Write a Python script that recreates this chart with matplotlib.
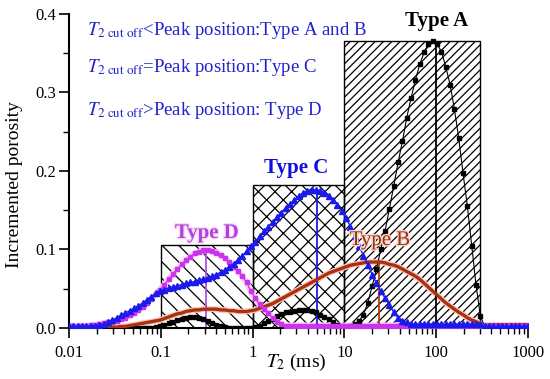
import matplotlib
matplotlib.use('Agg')
import matplotlib.pyplot as plt
import numpy as np
from matplotlib import patheffects as pe
from matplotlib.ticker import FixedLocator, NullFormatter, FixedFormatter, MultipleLocator, LogLocator, FormatStrFormatter

# ---------------- data ----------------
# T2 relaxation-time bins (ms), logarithmically spaced as in NMR inversion
T2 = np.logspace(-2, 3, 107)

typeA = [0.000, 0.000, 0.000, 0.000, 0.000, 0.000, 0.000, 0.000, 0.000, 0.000,
         0.000, 0.000, 0.000, 0.000, 0.000, 0.000, 0.000, 0.000, 0.000, 0.000,
         0.001, 0.002, 0.004, 0.006, 0.008, 0.010, 0.012, 0.013, 0.014, 0.014,
         0.013, 0.011, 0.009, 0.006, 0.004, 0.002, 0.001, 0.000, 0.000, 0.000,
         0.000, 0.000, 0.000, 0.001, 0.003, 0.006, 0.009, 0.012, 0.015, 0.018,
         0.020, 0.021, 0.022, 0.023, 0.023, 0.023, 0.022, 0.020, 0.017, 0.014,
         0.011, 0.007, 0.004, 0.002, 0.001, 0.002, 0.005, 0.009, 0.017, 0.032,
         0.053, 0.075, 0.100, 0.124, 0.152, 0.181, 0.211, 0.238, 0.268, 0.293,
         0.316, 0.336, 0.351, 0.362, 0.365, 0.362, 0.352, 0.333, 0.310, 0.279,
         0.242, 0.197, 0.155, 0.105, 0.055, 0.015, 0.002, 0.000, 0.000, 0.000,
         0.000, 0.000, 0.000, 0.000, 0.000, 0.000, 0.000]

typeB = [0.000, 0.000, 0.000, 0.000, 0.000, 0.000, 0.000, 0.000, 0.000, 0.000,
         0.001, 0.001, 0.002, 0.002, 0.003, 0.004, 0.005, 0.006, 0.007, 0.008,
         0.009, 0.010, 0.012, 0.014, 0.016, 0.018, 0.019, 0.021, 0.022, 0.023,
         0.023, 0.024, 0.024, 0.024, 0.024, 0.023, 0.023, 0.022, 0.022, 0.021,
         0.021, 0.021, 0.022, 0.023, 0.025, 0.027, 0.029, 0.031, 0.034, 0.037,
         0.040, 0.043, 0.046, 0.049, 0.052, 0.055, 0.058, 0.061, 0.064, 0.067,
         0.070, 0.072, 0.074, 0.076, 0.078, 0.080, 0.081, 0.082, 0.083, 0.084,
         0.084, 0.084, 0.084, 0.083, 0.081, 0.080, 0.078, 0.075, 0.072, 0.069,
         0.066, 0.062, 0.057, 0.052, 0.047, 0.042, 0.037, 0.032, 0.028, 0.024,
         0.020, 0.017, 0.013, 0.010, 0.008, 0.005, 0.003, 0.004, 0.004, 0.004,
         0.004, 0.004, 0.004, 0.004, 0.004, 0.004, 0.004]

typeC = [0.002, 0.002, 0.002, 0.002, 0.002, 0.003, 0.003, 0.004, 0.005, 0.007,
         0.010, 0.013, 0.016, 0.019, 0.022, 0.025, 0.028, 0.032, 0.036, 0.040,
         0.044, 0.047, 0.049, 0.051, 0.052, 0.054, 0.055, 0.057, 0.058, 0.059,
         0.061, 0.062, 0.064, 0.066, 0.068, 0.071, 0.074, 0.078, 0.082, 0.087,
         0.092, 0.098, 0.104, 0.110, 0.117, 0.123, 0.129, 0.135, 0.141, 0.147,
         0.153, 0.158, 0.163, 0.168, 0.172, 0.175, 0.176, 0.176, 0.175, 0.172,
         0.168, 0.163, 0.157, 0.149, 0.140, 0.129, 0.117, 0.104, 0.092, 0.080,
         0.068, 0.057, 0.047, 0.038, 0.029, 0.020, 0.013, 0.009, 0.007, 0.005,
         0.005, 0.005, 0.005, 0.005, 0.005, 0.005, 0.005, 0.005, 0.005, 0.005,
         0.005, 0.005, 0.005, 0.005, 0.005, 0.005, 0.002, 0.002, 0.002, 0.002,
         0.002, 0.002, 0.002, 0.002, 0.002, 0.002, 0.002]

typeD = [0.003, 0.003, 0.003, 0.003, 0.003, 0.004, 0.004, 0.005, 0.006, 0.007,
         0.008, 0.009, 0.011, 0.013, 0.016, 0.019, 0.023, 0.027, 0.032, 0.037,
         0.043, 0.049, 0.055, 0.062, 0.069, 0.075, 0.081, 0.086, 0.091, 0.095,
         0.097, 0.099, 0.099, 0.098, 0.096, 0.093, 0.089, 0.084, 0.078, 0.072,
         0.066, 0.058, 0.047, 0.038, 0.030, 0.024, 0.019, 0.013, 0.008, 0.005,
         0.003, 0.003, 0.003, 0.003, 0.003, 0.003, 0.003, 0.003, 0.003, 0.003,
         0.003, 0.003, 0.003, 0.003, 0.003, 0.003, 0.003, 0.003, 0.003, 0.003,
         0.003, 0.003, 0.003, 0.003, 0.003, 0.003, 0.003, 0.003, 0.003, 0.003,
         0.003, 0.003, 0.003, 0.003, 0.003, 0.003, 0.003, 0.003, 0.003, 0.003,
         0.003, 0.003, 0.003, 0.003, 0.003, 0.003, 0.003, 0.003, 0.003, 0.003,
         0.003, 0.003, 0.003, 0.003, 0.003, 0.003, 0.003]

# cut-off boxes
box_left = [0.1, 1, 10]
box_right = [1, 10, 300]
box_height = [0.106, 0.182, 0.366]
box_hatch = ['\\\\', 'xx', '////']

# peak position markers
peak_T2 = [100, 5, 23.8, 0.31]
peak_val = [0.366, 0.176, 0.084, 0.099]
peak_color = ['black', '#1a1aee', '#b0400a', '#b050e0']

x_ticks = [0.01, 0.1, 1, 10, 100, 1000]
x_ticklabels = ['0.01', '0.1', '1', '10', '100', '1000']

# ---------------- figure ----------------
plt.rcParams['font.family'] = ['Liberation Serif', 'DejaVu Serif']
plt.rcParams['mathtext.fontset'] = 'stix'
plt.rcParams['hatch.linewidth'] = 0.9

fig = plt.figure(figsize=(5.5, 3.79), dpi=100)
ax = fig.add_axes([0.1255, 0.1346, 0.8345, 0.8285])
ax.set_xscale('log')

for l, r, h, hh in zip(box_left, box_right, box_height, box_hatch):
    ax.bar(l, h, width=r - l, align='edge', fill=False, hatch=hh,
           edgecolor='black', linewidth=1.0, zorder=1)

ax.vlines(peak_T2, 0, peak_val, colors=peak_color, linewidth=1.3, zorder=2.5)

# Type A
ax.plot(T2, typeA, color='black', marker='s', ms=2.8, lw=0.8, zorder=3)
# Type B
ax.plot(T2, typeB, color='#ffc4c4', lw=4.2, zorder=2, solid_capstyle='round')
ax.plot(T2, typeB, color='#a8320c', lw=2.4, zorder=3.5)
# Type D
ax.plot(T2, typeD, color='#ffd0f6', lw=4.5, zorder=2, solid_capstyle='round')
ax.plot(T2, typeD, color='#cc33ee', marker='s', ms=3.5, lw=1, zorder=4)
# Type C
ax.plot(T2, typeC, color='#1a1aee', marker='^', ms=4, lw=1, zorder=5)

ax.set_xlim(0.01, 1000)
ax.set_ylim(0, 0.4)

for s in ['top', 'right']:
    ax.spines[s].set_visible(False)
for s in ['left', 'bottom']:
    ax.spines[s].set_linewidth(1.5)

ax.xaxis.set_major_locator(FixedLocator(x_ticks))
ax.xaxis.set_major_formatter(FixedFormatter(x_ticklabels))
ax.xaxis.set_minor_locator(LogLocator(base=10, subs=np.arange(2, 10)))
ax.xaxis.set_minor_formatter(NullFormatter())
ax.yaxis.set_major_locator(MultipleLocator(0.1))
ax.yaxis.set_minor_locator(MultipleLocator(0.05))
ax.yaxis.set_major_formatter(FormatStrFormatter('%.1f'))
ax.tick_params(which='major', direction='out', length=7, width=1.2, labelsize=12)
ax.tick_params(which='minor', direction='out', length=4, width=1.0)
ax.tick_params(axis='x', which='major', pad=5)
ax.tick_params(axis='y', which='major', pad=2)

fig.text(15 / 550, 1 - 185 / 379, 'Incremented porosity', rotation=90,
         ha='center', va='center', fontsize=14)
fig.text(296 / 550, 1 - 367 / 379, r'$T_2$ (ms)', ha='center', va='baseline', fontsize=14)

ann_color = '#2222cc'
fig.text(87 / 550, 1 - 35 / 379, r'$T_{\mathrm{2\ cut\ off}}$<Peak position:Type A and B',
         color=ann_color, fontsize=13.5, va='baseline')
fig.text(87 / 550, 1 - 72 / 379, r'$T_{\mathrm{2\ cut\ off}}$=Peak position:Type C',
         color=ann_color, fontsize=13.5, va='baseline')
fig.text(87 / 550, 1 - 115 / 379, r'$T_{\mathrm{2\ cut\ off}}$>Peak position: Type D',
         color=ann_color, fontsize=13.5, va='baseline')

fig.text(437 / 550, 1 - 26 / 379, 'Type A', color='black', fontsize=15,
         fontweight='bold', ha='center', va='baseline')
fig.text(296 / 550, 1 - 173 / 379, 'Type C', color='#1010dd', fontsize=15,
         fontweight='bold', ha='center', va='baseline')
fig.text(207 / 550, 1 - 238 / 379, 'Type D', color='#b040e0', fontsize=15,
         fontweight='bold', ha='center', va='baseline',
         path_effects=[pe.withStroke(linewidth=2, foreground='#ffdcf6')])
fig.text(380 / 550, 1 - 245 / 379, 'Type B', color='#8b3a0a', fontsize=15,
         ha='center', va='baseline',
         path_effects=[pe.withStroke(linewidth=2, foreground='#ffd0d0')])

fig.savefig('out.png', dpi=100)
